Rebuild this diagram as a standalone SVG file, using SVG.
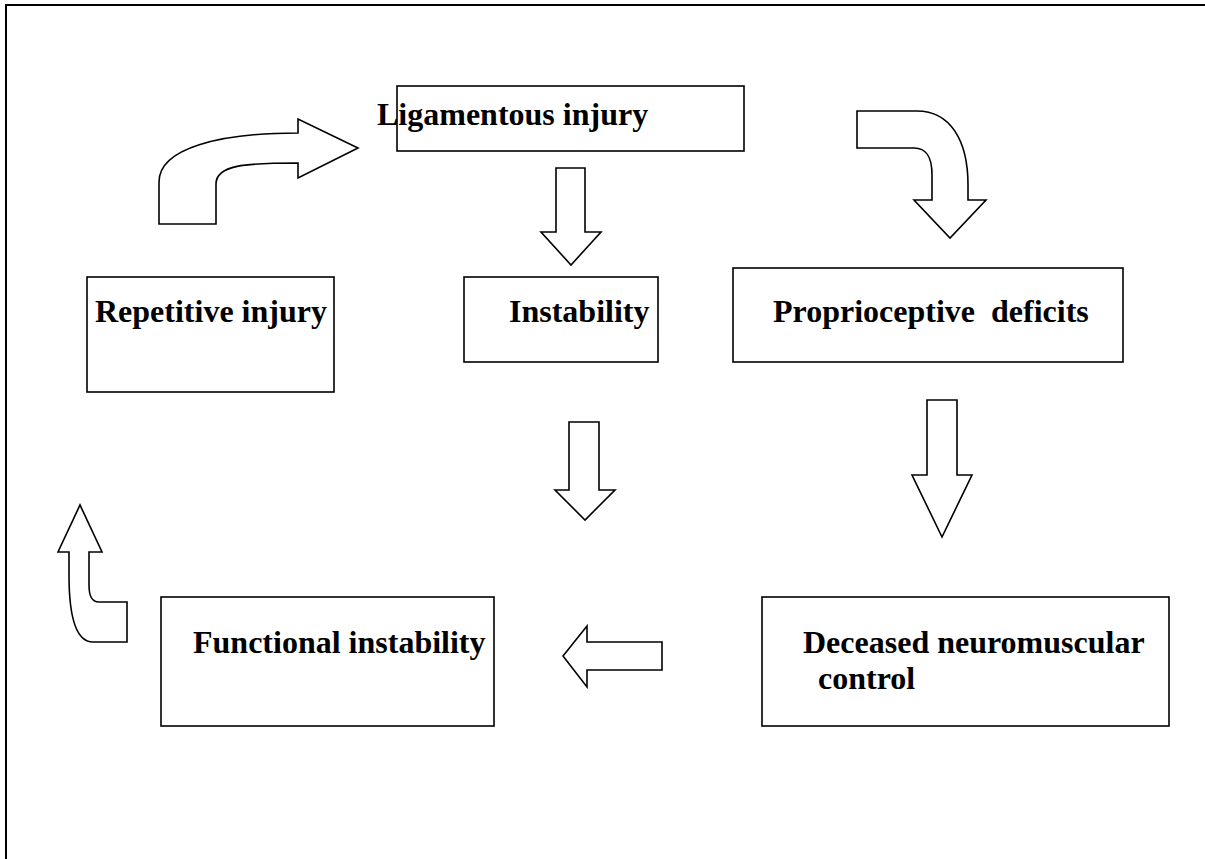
<svg xmlns="http://www.w3.org/2000/svg" width="1205" height="859" viewBox="0 0 1205 859">
<style>
.frame{fill:none;stroke:#000;stroke-width:2}
.box{fill:#fff;stroke:#000;stroke-width:1.6}
.arr{fill:#fff;stroke:#000;stroke-width:1.6;stroke-linejoin:miter}
.lbl{font-family:"Liberation Serif","Times New Roman",serif;font-weight:bold;font-size:32px;fill:#000;white-space:pre}
</style>
<rect width="1205" height="859" fill="#fff"/>
<path class="frame" d="M6,859 L6,5 L1205,5"/>
<g id="connectors">
<path id="c-rep-lig" class="arr" d="M159,224 L159,182 C159,148 220,133 298,133 L298,119 L358,148 L298,178 L298,163 C245,163 216,165 216,184 L216,224 Z"/>
<path id="c-lig-inst" class="arr" d="M556,168 L585,168 L585,232 L601,232 L571,265 L541,232 L556,232 Z"/>
<path id="c-lig-prop" class="arr" d="M857,111 L917,111 C950,111 968,140 968,185 L968,200 L986,200 L950,238 L914,200 L932,200 L932,175 C932,156 926,148 914,148 L857,148 Z"/>
<path id="c-inst-down" class="arr" d="M569,422 L599,422 L599,490 L615,490 L585,520 L555,490 L569,490 Z"/>
<path id="c-prop-dec" class="arr" d="M927,400 L957,400 L957,475 L972,475 L942,537 L912,475 L927,475 Z"/>
<path id="c-dec-func" class="arr" d="M563,656 L587,626 L587,642 L662,642 L662,670 L587,670 L587,687 Z"/>
<path id="c-func-rep" class="arr" d="M127,642 L93,642 C75,642 69,615 69,575 L69,552 L58,552 L80,505 L102,552 L89,552 L89,585 C89,597 92,602 99,602 L127,602 Z"/>
</g>
<g id="n-lig">
<rect class="box" x="397" y="86" width="347" height="65"/>
<text class="lbl" x="377" y="125">Ligamentous injury</text>
</g>
<g id="n-rep">
<rect class="box" x="87" y="277" width="247" height="115"/>
<text class="lbl" x="95" y="322">Repetitive injury</text>
</g>
<g id="n-inst">
<rect class="box" x="464" y="277" width="194" height="85"/>
<text class="lbl" x="509" y="322">Instability</text>
</g>
<g id="n-prop">
<rect class="box" x="733" y="268" width="390" height="94"/>
<text class="lbl" x="773" y="322" xml:space="preserve">Proprioceptive  deficits</text>
</g>
<g id="n-func">
<rect class="box" x="161" y="597" width="333" height="129"/>
<text class="lbl" x="193" y="653">Functional instability</text>
</g>
<g id="n-dec">
<rect class="box" x="762" y="597" width="407" height="129"/>
<text class="lbl" x="803" y="653">Deceased neuromuscular</text>
<text class="lbl" x="818" y="689">control</text>
</g>
</svg>
